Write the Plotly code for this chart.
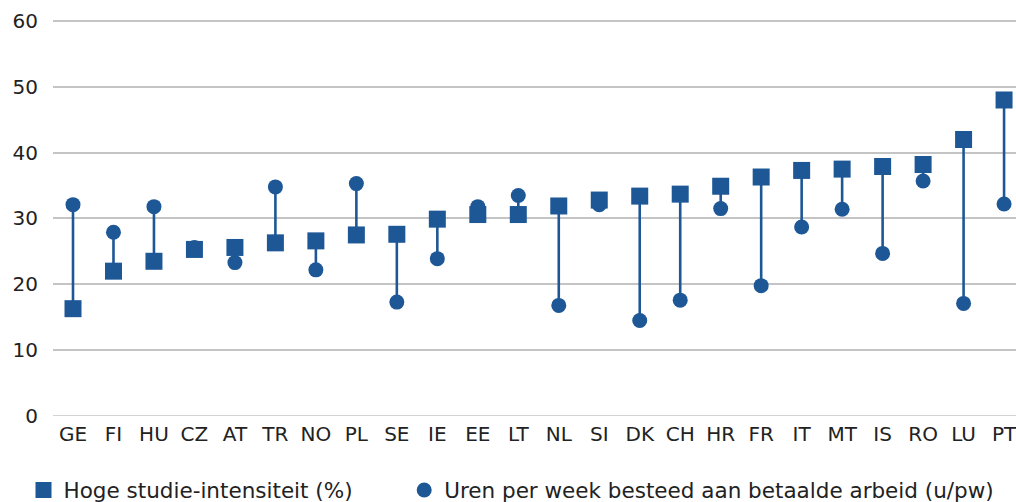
import plotly.graph_objects as go

categories = ["GE", "FI", "HU", "CZ", "AT", "TR", "NO", "PL", "SE", "IE", "EE", "LT",
              "NL", "SI", "DK", "CH", "HR", "FR", "IT", "MT", "IS", "RO", "LU", "PT"]
hoge_studie = [16.3, 22.0, 23.5, 25.3, 25.6, 26.3, 26.6, 27.5, 27.6, 29.9, 30.6, 30.6,
               31.9, 32.8, 33.4, 33.7, 34.9, 36.3, 37.3, 37.5, 37.9, 38.2, 42.0, 48.0]
uren_per_week = [32.1, 27.9, 31.8, 25.6, 23.3, 34.8, 22.2, 35.3, 17.3, 23.9, 31.8, 33.5,
                 16.8, 32.1, 14.5, 17.6, 31.5, 19.8, 28.7, 31.4, 24.7, 35.7, 17.1, 32.2]
y_ticks = [0, 10, 20, 30, 40, 50, 60]

color = "#1d5796"
font_family = "DejaVu Sans, Verdana, sans-serif"
fs = 20
fs_leg = 21.5

# connector lines built from data
lx, ly = [], []
for c, a, b in zip(categories, hoge_studie, uren_per_week):
    lx += [c, c, None]
    ly += [a, b, None]

fig = go.Figure()
fig.add_trace(go.Scatter(x=lx, y=ly, mode="lines", line=dict(color=color, width=2.6),
                         showlegend=False, hoverinfo="skip"))
fig.add_trace(go.Scatter(x=categories, y=uren_per_week, mode="markers",
                         name="Uren per week besteed aan betaalde arbeid (u/pw)",
                         marker=dict(symbol="circle", size=15, color=color), legend="legend2"))
fig.add_trace(go.Scatter(x=categories, y=hoge_studie, mode="markers",
                         name="Hoge studie-intensiteit (%)",
                         marker=dict(symbol="square", size=17, color=color), legend="legend"))

W, H = 1016, 502
leg_common = dict(orientation="h", xref="container", yref="container", y=12 / H,
                  xanchor="left", yanchor="middle", font=dict(size=fs_leg),
                  itemsizing="trace", bgcolor="rgba(0,0,0,0)")

fig.update_layout(
    width=W, height=H,
    margin=dict(l=53, r=0, t=19, b=86, autoexpand=False),
    paper_bgcolor="white", plot_bgcolor="white",
    font=dict(family=font_family, size=fs, color="#222222"),
    xaxis=dict(type="category", categoryorder="array", categoryarray=categories,
               range=[-0.494, 23.295], showgrid=False, showline=False, ticks="",
               tickfont=dict(size=fs), zeroline=False, automargin=False,
               ticklabelstandoff=4),
    yaxis=dict(range=[0, 60.3], tickvals=y_ticks, showgrid=True, gridcolor="#c4c4c4",
               gridwidth=1.5, zeroline=False, showline=False, ticks="", ticklen=0,
               tickfont=dict(size=fs), automargin=False, ticklabelstandoff=14),
    legend=dict(x=23.5 / W, **leg_common),
    legend2=dict(x=404.2 / W, **leg_common),
    showlegend=True,
)
fig.add_shape(type="line", xref="paper", yref="y", x0=0, x1=1, y0=0, y1=0,
              line=dict(color="#c4c4c4", width=1.5), layer="below")

fig.write_html("out.html", config={"displayModeBar": False},
               post_script="document.body.style.margin='0';document.body.style.overflow='hidden';")
